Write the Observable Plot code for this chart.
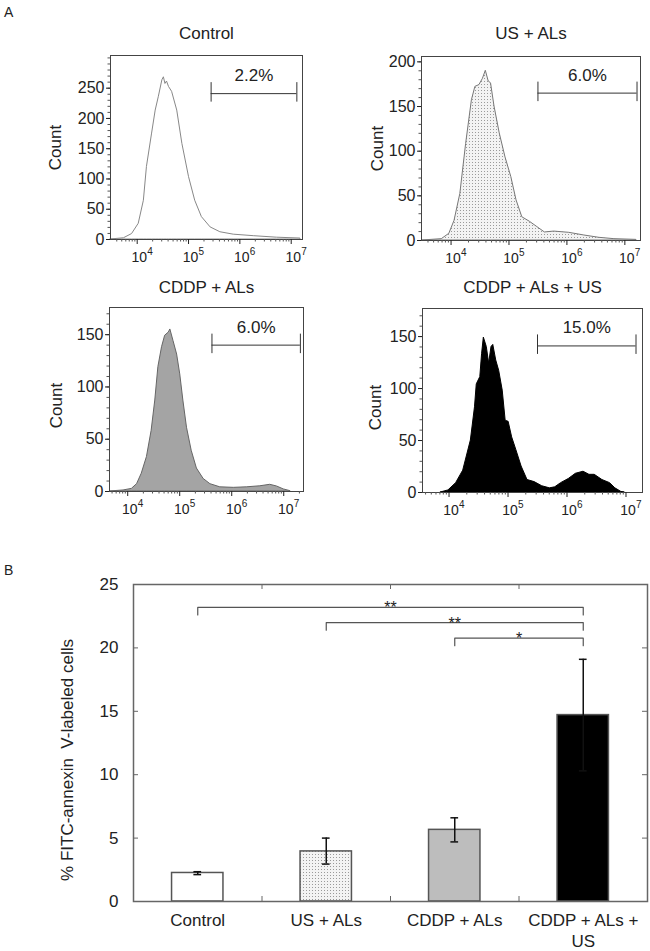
<!DOCTYPE html>
<html>
<head>
<meta charset="utf-8">
<script src="https://cdn.jsdelivr.net/npm/d3@7"></script>
<script src="https://cdn.jsdelivr.net/npm/@observablehq/plot@0.6"></script>
<style>
  body { margin: 0; background: #fff; font-family: "Liberation Sans", Arial, sans-serif; }
  #fig { position: relative; width: 650px; height: 951px; }
  #fig svg.plot { position: absolute; }
  .letter { position: absolute; font-size: 14px; color: #222; }
</style>
</head>
<body>
<svg width="0" height="0" style="position:absolute">
  <defs>
    <pattern id="stipple" width="3" height="3" patternUnits="userSpaceOnUse">
      <rect width="3" height="3" fill="#f3f3f3"></rect>
      <rect width="1" height="1" fill="#9a9a9a"></rect>
    </pattern>
  </defs>
</svg>
<div id="fig">
  <div class="letter" style="left:4px;top:4px">A</div>
  <div class="letter" style="left:4px;top:562px">B</div>
</div>
<script>
// --- panel A: flow histograms (x = log10 of FITC intensity, y = cell count)
const ctrlLog   = [3.48, 3.74, 3.90, 4.03, 4.13, 4.19, 4.29, 4.36, 4.42, 4.49, 4.52, 4.55, 4.58, 4.62, 4.68, 4.78, 4.88, 5.01, 5.13, 5.26, 5.43, 5.62, 5.88, 6.27, 6.72, 7.18];
const ctrlCount = [0, 2, 9, 26, 64, 120, 175, 213, 235, 263, 268, 257, 261, 252, 244, 213, 158, 103, 64, 37, 20, 12, 8, 5.5, 3, 1.6];

const usLog   = [3.51, 3.84, 3.97, 4.06, 4.16, 4.26, 4.36, 4.42, 4.49, 4.55, 4.60, 4.65, 4.69, 4.75, 4.84, 4.94, 5.04, 5.13, 5.23, 5.36, 5.49, 5.62, 5.78, 6.04, 6.30, 6.56, 6.82, 7.20];
const usCount = [0, 1.5, 7.5, 22, 52, 108, 157, 172, 174, 181, 190, 178, 176, 150, 120, 93, 71, 45, 26, 21, 15, 9, 10, 8.6, 5.6, 3, 1.5, 0.7];

const cddpLog   = [3.66, 3.92, 4.08, 4.18, 4.27, 4.37, 4.46, 4.53, 4.59, 4.66, 4.72, 4.79, 4.82, 4.88, 4.95, 5.01, 5.07, 5.14, 5.23, 5.33, 5.46, 5.59, 5.78, 6.04, 6.29, 6.55, 6.74, 6.87, 7.00, 7.13];
const cddpCount = [0, 1, 2.5, 7, 17, 33, 58, 87, 119, 138, 149, 152, 155, 144, 131, 112, 87, 61, 39, 22, 12, 7, 4, 3.5, 4, 5, 6.4, 4.8, 2, 0.3];

const comboLog   = [3.86, 3.99, 4.12, 4.24, 4.37, 4.44, 4.47, 4.53, 4.56, 4.59, 4.64, 4.68, 4.72, 4.75, 4.80, 4.85, 4.91, 4.96, 5.01, 5.07, 5.14, 5.23, 5.33, 5.45, 5.58, 5.71, 5.80, 5.90, 6.03, 6.15, 6.28, 6.38, 6.47, 6.60, 6.73, 6.82, 6.92, 6.98];
const comboCount = [0, 2, 9, 21, 50, 82, 104, 111, 133, 149, 140, 124, 140, 142, 127, 117, 98, 69, 68, 53, 41, 25, 12, 10, 6, 4, 5, 9, 13, 18, 20, 17, 17, 12, 9, 4, 0.6, 0];

const histTitles = ["Control", "US + ALs", "CDDP + ALs", "CDDP + ALs + US"];
const gateLabels = ["2.2%", "6.0%", "6.0%", "15.0%"];
const gateFrom   = [5.44, 5.50, 5.62, 5.50];   // log10
const gateTo     = [7.11, 7.21, 7.32, 7.17];
const gateCount  = [241, 165, 140, 141];
const histYTicks = [[0, 50, 100, 150, 200, 250], [0, 50, 100, 150, 200], [0, 50, 100, 150], [0, 50, 100, 150]];
const decades    = [1e4, 1e5, 1e6, 1e7];

// --- panel B: bar chart
const groups   = ["Control", "US + ALs", "CDDP + ALs", "CDDP + ALs +\nUS"];
const means    = [2.25, 3.95, 5.65, 14.7];
const errLow   = [2.12, 2.95, 4.7, 10.3];
const errHigh  = [2.35, 5.0, 6.6, 19.1];
const barYTicks = [0, 5, 10, 15, 20, 25];
const sigFrom  = [0, 1, 2];
const sigTo    = [3, 3, 3];
const sigLevel = [23.2, 22.0, 20.77];
const sigStars = ["**", "**", "*"];

const font = "'Liberation Sans', Arial, sans-serif";
const fig = document.getElementById("fig");

function histogram(o) {
  const pts = o.logs.map((l, i) => ({x: 10 ** l, y: o.counts[i]}));
  const lo = 10 ** o.xDomain[0], hi = 10 ** o.xDomain[1];
  const minorX = [];
  for (let e = 3; e < 8; e++) for (let m = 2; m < 10; m++) {
    const v = m * 10 ** e;
    if (v > lo && v < hi) minorX.push(v);
  }
  const minorY = d3.range(0, o.yMax, 10);
  const innerH = o.height - o.mt - o.mb;
  const k = innerH / o.yMax; // px per count
  const i = o.idx;
  const gate = [{x1: 10 ** gateFrom[i], x2: 10 ** gateTo[i], y: gateCount[i], label: gateLabels[i]}];

  const svg = Plot.plot({
    width: 325, height: o.height,
    marginLeft: o.ml, marginRight: o.mr, marginTop: o.mt, marginBottom: o.mb,
    style: {fontFamily: font, fontSize: "16px", color: "#222", background: "transparent"},
    x: {type: "log", domain: [lo, hi]},
    y: {domain: [0, o.yMax]},
    marks: [
      Plot.areaY(pts, {x: "x", y: "y", fill: o.fill, stroke: o.stroke, strokeWidth: 1}),
      Plot.frame({stroke: "#444"}),
      Plot.axisY({ticks: minorY, tickSize: 2.5, tickFormat: () => "", label: null, stroke: "#555"}),
      Plot.axisY({ticks: histYTicks[i], tickSize: 4, tickPadding: 2, label: null, fontSize: 16}),
      Plot.axisX({ticks: minorX, tickSize: 2.5, tickFormat: () => "", label: null, stroke: "#555"}),
      Plot.axisX({ticks: decades, tickSize: 5, tickFormat: () => "", label: null}),
      // "10" with raised exponent
      Plot.text(decades, {x: d => d, text: () => "10", frameAnchor: "bottom", lineAnchor: "top", dy: 13, dx: 2, fontSize: 14}),
      Plot.text(decades, {x: d => d, text: d => String(Math.round(Math.log10(d))), frameAnchor: "bottom",
        lineAnchor: "top", textAnchor: "start", dy: 8, dx: 10, fontSize: 10}),
      Plot.ruleY(gate, {x1: "x1", x2: "x2", y: "y", stroke: "#333"}),
      Plot.ruleX(gate.flatMap(g => [g.x1, g.x2]), {x: d => d, y1: gate[0].y - 8.5 / k, y2: gate[0].y + 11 / k, stroke: "#333"}),
      Plot.text(gate, {x: d => Math.sqrt(d.x1 * d.x2), y: "y", text: "label", dy: -18, fontSize: 17}),
      Plot.text([histTitles[i]], {frameAnchor: "top", lineAnchor: "middle", dy: o.titleDy, fontSize: 17}),
      Plot.text(["Count"], {frameAnchor: "left", textAnchor: "middle", rotate: -90, dx: o.countDx, dy: o.countDy, fontSize: 17})
    ]
  });
  svg.classList.add("plot");
  svg.style.left = o.left + "px";
  svg.style.top = o.top + "px";
  fig.appendChild(svg);
}

histogram({idx: 0, logs: ctrlLog, counts: ctrlCount, xDomain: [3.48, 7.22], yMax: 304,
  left: 0, top: 15, height: 265, ml: 110, mr: 23, mt: 40, mb: 41,
  fill: "#fff", stroke: "#888", titleDy: -22, countDx: -55, countDy: 0});
histogram({idx: 1, logs: usLog, counts: usCount, xDomain: [3.49, 7.27], yMax: 206,
  left: 325, top: 15, height: 265, ml: 96, mr: 10, mt: 41, mb: 40,
  fill: "url(#stipple)", stroke: "#777", titleDy: -23, countDx: -44, countDy: 0});
histogram({idx: 2, logs: cddpLog, counts: cddpCount, xDomain: [3.65, 7.38], yMax: 176,
  left: 0, top: 270, height: 260, ml: 109, mr: 22, mt: 37, mb: 39,
  fill: "#a4a4a4", stroke: "#666", titleDy: -20, countDx: -53, countDy: 6});
histogram({idx: 3, logs: comboLog, counts: comboCount, xDomain: [3.55, 7.28], yMax: 177,
  left: 325, top: 270, height: 260, ml: 97, mr: 8, mt: 38, mb: 38,
  fill: "#000", stroke: "#000", titleDy: -21, countDx: -47, countDy: 7});

// --- bar chart
const barFills = ["#fff", "url(#stipple)", "#bdbdbd", "#000"];
const bars = groups.map((g, i) => ({i, g, mean: means[i], lo: errLow[i], hi: errHigh[i], fill: barFills[i]}));
const caps = bars.flatMap(b => [{i: b.i, y: b.lo}, {i: b.i, y: b.hi}]);
const brackets = sigFrom.map((f, j) => ({from: f, to: sigTo[j], y: sigLevel[j], stars: sigStars[j]}));
const bracketPts = brackets.flatMap((b, j) => [
  {x: b.from, y: b.y - 0.6, j}, {x: b.from, y: b.y, j},
  {x: b.to, y: b.y, j}, {x: b.to, y: b.y - 0.6, j}
]);
const bW = 650, bH = 391, bML = 133, bMR = 3, bMT = 24, bMB = 50;
const innerW = bW - bML - bMR, innerH = bH - bMT - bMB;

const bar = Plot.plot({
  width: bW, height: bH,
  marginLeft: bML, marginRight: bMR, marginTop: bMT, marginBottom: bMB,
  style: {fontFamily: font, fontSize: "17px", color: "#222", background: "transparent"},
  x: {domain: [-0.5, 3.5]},
  y: {domain: [0, 25]},
  color: {type: "identity"},
  marks: [
    Plot.rectY(bars, {x1: d => d.i - 0.2, x2: d => d.i + 0.2, y: "mean", fill: "fill", stroke: "#555", strokeWidth: 1.5}),
    Plot.ruleX(bars, {x: "i", y1: "lo", y2: "hi", stroke: "#111", strokeWidth: 1.5}),
    Plot.ruleY(caps, {y: "y", x1: d => d.i - 0.03, x2: d => d.i + 0.03, stroke: "#111", strokeWidth: 1.5}),
    Plot.line(bracketPts, {x: "x", y: "y", z: "j", stroke: "#555", strokeWidth: 1.2}),
    Plot.text(brackets, {x: d => (d.from + d.to) / 2, y: "y", text: "stars", fontSize: 16, dy: 1}),
    Plot.frame({stroke: "#666", strokeWidth: 1.5}),
    Plot.ruleY(barYTicks, {insetRight: innerW - 5, stroke: "#666"}),
    Plot.ruleY(barYTicks, {insetLeft: innerW - 5, stroke: "#666"}),
    Plot.ruleX([0.5, 1.5, 2.5], {insetTop: innerH - 5, stroke: "#666"}),
    Plot.ruleX([0.5, 1.5, 2.5], {insetBottom: innerH - 5, stroke: "#666"}),
    Plot.axisY({ticks: barYTicks, tickSize: 0, tickPadding: 15, label: null, fontSize: 17}),
    Plot.axisX({ticks: [0, 1, 2, 3], tickFormat: i => groups[i], tickSize: 0, tickPadding: 9, label: null,
      fontSize: 17, lineHeight: 1.25}),
    Plot.text(["% FITC-annexin\u00a0 V-labeled cells"], {frameAnchor: "left", textAnchor: "middle", rotate: -90,
      dx: -66, dy: 17, fontSize: 17})
  ]
});
bar.classList.add("plot");
bar.style.left = "0px";
bar.style.top = "560px";
fig.appendChild(bar);
</script>
</body>
</html>
